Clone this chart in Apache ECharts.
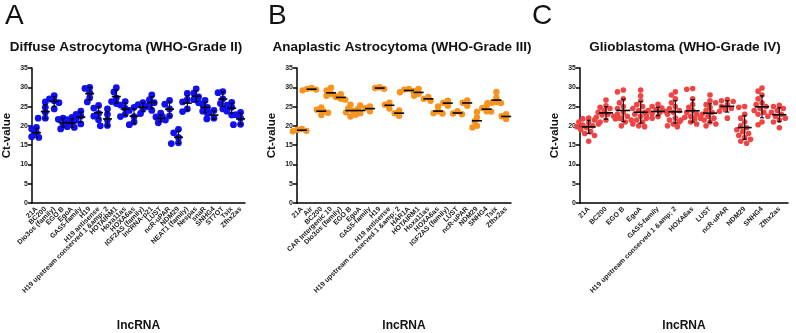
<!DOCTYPE html>
<html><head><meta charset="utf-8">
<script src="https://cdn.jsdelivr.net/npm/echarts@6/dist/echarts.min.js"></script>
<style>html,body{margin:0;padding:0;background:#fff}#c{width:796px;height:333px}</style>
</head><body><div id="c"></div>
<script>
const catsA = ["21A","BC200","Dio3os (family)","EGO B","EgoA","GAS5-family","H19","H19 antisense","H19 upstream conserved 1 &amp; 2","HOTAIRM1","Hoxa11as","HOXA6as","IGF2AS (family)","lncRNA-p21","LUST","ncR-uPAR","NDM29","NEAT1 (family)","Nespas","snaR","SNHG4","ST7OT","Tsix","Zfhx2as"];
const valsA = [
 [19.6,19.2,18.2,17.0,17.2],[26.2,24.8,23.5,22.0,22.0],[27.8,27.0,26.5,26.0,24.4],[22.0,21.7,20.3,19.2,21.0],
 [22.2,21.6,20.8,19.8,19.6],[23.8,23.0,22.5,21.5,20.5],[30.0,29.7,28.6,27.3,26.2],[25.3,24.6,23.2,21.6,22.5],
 [24.4,23.0,21.5,20.0,20.1],[29.9,28.8,27.2,26.3,25.8],[26.3,25.4,24.5,23.0,22.4],[24.8,24.0,22.4,21.0,20.3],
 [26.0,25.5,24.3,23.2,25.0],[28.0,26.8,26.0,25.5,24.0],[23.3,22.3,21.5,20.8,21.9],[26.6,25.6,24.4,22.6,22.4],
 [19.1,18.2,17.0,15.6,15.4],[28.4,26.8,26.2,24.4,23.7],[29.6,28.5,27.5,26.8,26.0],[26.6,25.5,24.8,23.8,23.2],
 [24.0,23.4,22.0,21.8],[28.9,28.6,27.0,25.8,24.4],[26.1,25.4,24.8,23.8,22.8],[23.5,22.9,22.0,20.3,20.4]
];
const catsB = ["21A","Air","BC200","CAR Intergenic 10","Dio3os (family)","EGO B","EgoA","GAS5-family","H19","H19 antisense","H19 upstream conserved 1 &amp; 2","HAR1A","HOTAIRM1","Hoxa11as","HOXA6as","IGF2AS (family)","LUST","ncR-uPAR","NDM29","SNHG4","Tsix","Zfhx2as"];
const valsB = [
 [19.0,18.6,19.2,18.7],[29.8,29.4,29.6,29.2],[24.8,24.2,23.4,22.8,23.8],[29.9,29.2,28.3,27.6,27.8],
 [28.2,27.5,27.0,26.8],[25.5,24.5,23.5,22.4,23.9],[25.3,24.4,23.3,22.9],[25.0,24.6,23.8],
 [30.0,29.8,29.6],[26.0,25.5,24.5],[24.0,23.3,22.6],[29.6,29.0,28.7,29.4],
 [29.6,29.0,28.3,27.8],[27.5,27.0,26.5],[25.0,23.8,23.2,23.3],[26.5,26.0,25.2],
 [23.8,23.2,23.0],[26.6,26.0,25.2],[23.6,22.2,21.2,20.0,19.6],[25.2,24.6,23.8,23.7],
 [28.8,27.3,26.2,25.9,26.0,25.9],[23.0,22.5,21.8]
];
const catsC = ["21A","BC200","EGO B","EgoA","GAS5-family","H19 upstream conserved 1 &amp; 2","HOXA6as","LUST","ncR-uPAR","NDM29","SNHG4","Zfhx2as"];
const valsC = [
 [22.0,21.8,21.5,21.0,20.8,20.5,20.2,20.0,19.8,19.5,19.0,18.5,18.0,17.5,16.0],
 [26.7,25.2,24.8,24.5,24.0,23.5,23.0,22.8,22.5,22.2,22.0,21.5,21.0],
 [29.3,28.8,27.0,26.0,25.0,24.5,23.5,23.0,22.5,22.0,21.8,21.5,21.0,20.0],
 [29.3,27.8,26.5,25.5,25.0,24.5,24.0,23.5,23.0,22.5,22.0,21.5,21.0,20.5,20.0,19.8],
 [25.6,25.0,24.6,24.2,24.0,23.8,23.5,23.2,22.8,22.4,22.0],
 [28.8,28.0,27.0,26.0,25.0,24.5,24.0,23.5,23.0,22.0,21.5,21.0,20.5,20.0,19.8],
 [29.7,29.5,27.0,25.5,24.8,24.0,23.5,23.0,22.5,22.2,22.0,21.8,21.5,21.0,20.5],
 [28.0,26.5,25.5,24.8,24.0,23.5,23.0,22.5,22.0,21.5,21.0,20.5,20.0],
 [26.8,26.5,26.3,26.0,25.5,25.0,24.5,24.2,23.8,22.0],
 [25.0,24.8,23.0,22.0,21.0,20.0,19.5,19.0,18.5,18.0,17.5,17.0,16.5,16.0,15.5],
 [29.8,29.0,28.0,27.0,26.0,25.5,25.0,24.5,24.0,23.5,23.0,22.5,21.0,20.3],
 [25.3,25.0,24.5,24.0,23.5,23.0,22.5,22.0,21.5,21.0,19.5]
];
const titles = ["Diffuse Astrocytoma (WHO-Grade II)","Anaplastic Astrocytoma (WHO-Grade III)","Glioblastoma (WHO-Grade IV)"];
const letters = ["A","B","C"];

const panels = [
  {cats:catsA, vals:valsA, color:'#1010f0', left:32, width:213, r:3.4, mw:4.5, ov:0.72, sd:true, title:{x:126}, letter:5},
  {cats:catsB, vals:valsB, color:'#f7931e', left:297, width:214, r:3.2, mw:5, ov:0.65, sd:false, title:{x:402}, letter:268},
  {cats:catsC, vals:valsC, color:'#ee4444', left:580, width:208, r:2.8, mw:7, ov:0.85, sd:true, title:{x:685}, letter:532}
];
const TOP=68, H=141, PXU=H/35;

function swarm(vals, r, ov){
  const placed=[]; const offs=new Array(vals.length);
  const order = vals.map((v,i)=>i).sort((a,b)=>vals[b]-vals[a]);
  const d = 2*r*ov, step = r*0.7;
  order.forEach(i=>{
    const y = vals[i]*PXU;
    for(let k=0;k<40;k++){
      const o = (k%2===0?1:-1)*Math.ceil(k/2)*step;
      if(placed.every(p=>((p.x-o)**2+(p.y-y)**2)>=d*d)){placed.push({x:o,y:y}); offs[i]=o; break;}
    }
    if(offs[i]===undefined) offs[i]=0;
  });
  return offs;
}

const grid=[], xAxis=[], yAxis=[], series=[], graphic=[];
panels.forEach((p,pi)=>{
  grid.push({left:p.left, top:TOP, width:p.width, height:H});
  xAxis.push({type:'category', gridIndex:pi, data:p.cats, boundaryGap:true,
    axisLine:{lineStyle:{color:'#000',width:1.5}},
    axisTick:{alignWithLabel:true, length:4, lineStyle:{color:'#000',width:1.5}},
    axisLabel:{interval:0, rotate:45, fontSize:7, fontWeight:'bold', color:'#222', fontFamily:'Liberation Sans', margin:5},
    name:'lncRNA', nameLocation:'middle', nameGap:117,
    nameTextStyle:{fontSize:12, fontWeight:'bold', color:'#111', fontFamily:'Liberation Sans'}
  });
  yAxis.push({type:'value', gridIndex:pi, min:0, max:35, interval:5,
    axisLine:{show:true, lineStyle:{color:'#000',width:1.5}},
    axisTick:{show:true, length:4, lineStyle:{color:'#000',width:1.5}},
    splitLine:{show:false},
    axisLabel:{fontSize:7, fontWeight:'bold', color:'#222', fontFamily:'Liberation Sans', margin:4},
    name:'Ct-value', nameLocation:'middle', nameGap:19,
    nameTextStyle:{fontSize:11.5, fontWeight:'bold', color:'#111', fontFamily:'Liberation Sans'}
  });
  const dots=[], stats=[];
  p.vals.forEach((g,ci)=>{
    const offs = swarm(g, p.r, p.ov);
    g.forEach((v,j)=>dots.push([ci, v, offs[j]]));
    const m = g.reduce((a,b)=>a+b,0)/g.length;
    const sd = Math.sqrt(g.reduce((a,b)=>a+(b-m)**2,0)/Math.max(1,g.length-1));
    stats.push([ci, m, sd]);
  });
  series.push({type:'custom', xAxisIndex:pi, yAxisIndex:pi, data:dots, z:2,
    renderItem:(params,api)=>{
      const c = api.coord([api.value(0), api.value(1)]);
      return {type:'circle', shape:{cx:c[0]+api.value(2), cy:c[1], r:p.r}, style:{fill:p.color}};
    }});
  series.push({type:'custom', xAxisIndex:pi, yAxisIndex:pi, data:stats, z:3,
    renderItem:(params,api)=>{
      const m=api.value(1), sd=api.value(2);
      const c = api.coord([api.value(0), m]);
      const hi = api.coord([api.value(0), m+sd]), lo = api.coord([api.value(0), m-sd]);
      const st={stroke:'#000', lineWidth:1.1};
      const ch=[{type:'line', shape:{x1:c[0]-p.mw, y1:c[1], x2:c[0]+p.mw, y2:c[1]}, style:{stroke:'#000', lineWidth:1.6}}];
      if(p.sd){
        ch.push({type:'line', shape:{x1:c[0], y1:hi[1], x2:c[0], y2:lo[1]}, style:st});
        ch.push({type:'line', shape:{x1:c[0]-2, y1:hi[1], x2:c[0]+2, y2:hi[1]}, style:st});
        ch.push({type:'line', shape:{x1:c[0]-2, y1:lo[1], x2:c[0]+2, y2:lo[1]}, style:st});
      }
      return {type:'group', children:ch};
    }});
  graphic.push({type:'text', left:p.letter, top:2, style:{text:letters[pi], fontSize:28, fontFamily:'Liberation Sans', fill:'#111'}});
  graphic.push({type:'text', x:p.title.x, y:47, style:{text:titles[pi], fontSize:13.5, fontWeight:'bold', fontFamily:'Liberation Sans', fill:'#111', textAlign:'center', textVerticalAlign:'middle'}});
});

const chart = echarts.init(document.getElementById('c'), null, {renderer:'canvas'});
chart.setOption({animation:false, grid, xAxis, yAxis, series, graphic});
</script></body></html>
